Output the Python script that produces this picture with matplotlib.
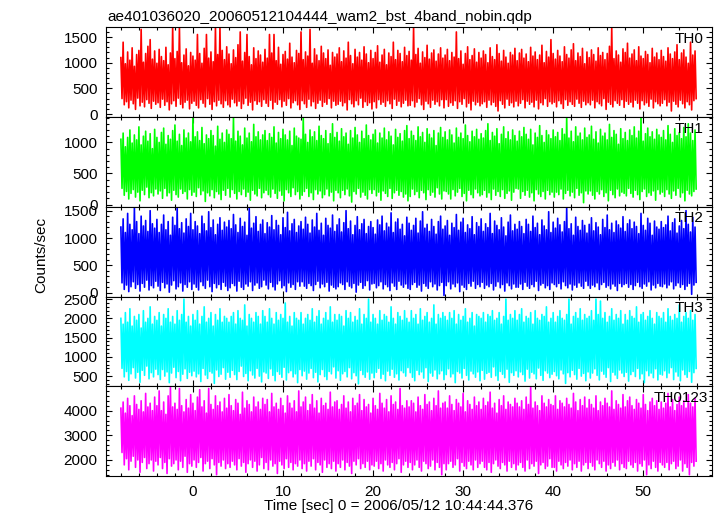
import matplotlib
matplotlib.use("Agg")
import matplotlib.pyplot as plt
from matplotlib.ticker import MultipleLocator
import numpy as np

plt.rcParams['font.family'] = ['Liberation Sans', 'DejaVu Sans']
plt.rcParams['font.size'] = 11

title = "ae401036020_20060512104444_wam2_bst_4band_nobin.qdp"
xlabel = "Time [sec] 0 = 2006/05/12 10:44:44.376"
ylabel = "Counts/sec"

# light curve: per 0.25 s bin, the local high and low count rate
t_start = -8.0
bin_sec = 0.25

bands = ["TH0", "TH1", "TH2", "TH3", "TH0123"]
colors = ["#ff0000", "#00ff00", "#0000ff", "#00ffff", "#ff00ff"]

th0_hi = [1100, 1400, 980, 1210, 1050, 1290, 930, 1160, 1240, 1650, 1010, 1180, 1320, 1450, 1070, 1230,
          990, 1260, 1120, 1040, 1300, 960, 1190, 1690, 1080, 1220, 1690, 1000, 1150, 1270, 940, 1200,
          1130, 1050, 1550, 1180, 990, 1280, 1550, 1090, 1210, 1020, 1690, 1160, 1690, 1240, 1060, 1310,
          1170, 980, 1250, 1100, 1350, 1600, 1030, 1200, 1550, 1120, 960, 1290, 1080, 1230, 1150, 1010,
          1260, 1090, 1550, 1190, 1550, 1040, 1300, 970, 1160, 1220, 1070, 1380, 1110, 1000, 1240, 1180,
          1600, 1060, 1210, 1130, 1650, 990, 1270, 1150, 1040, 1320, 1190, 1080, 1250, 950, 1200, 1110,
          1170, 1290, 1020, 1230, 1090, 1400, 1140, 980, 1260, 1110, 1200, 1050, 1310, 1170, 1000, 1240,
          1080, 1200, 1330, 1010, 1150, 1260, 960, 1190, 1120, 1400, 1060, 1240, 1180, 1020, 1300, 1140,
          1220, 1050, 1690, 1160, 1280, 990, 1210, 1100, 1340, 1070, 1190, 1250, 1030, 1170, 1290, 1090,
          1150, 1260, 1040, 1200, 1110, 1600, 1080, 1230, 970, 1180, 1310, 1060, 1140, 1270, 1010, 1200,
          1090, 1230, 1160, 1000, 1290, 1120, 1060, 1350, 1180, 1030, 1240, 1110, 990, 1200, 1150, 1280,
          1040, 1190, 1260, 1090, 1170, 1020, 1300, 1130, 1210, 1060, 1150, 1340, 1000, 1220, 1110, 1450,
          1180, 1070, 1240, 1130, 1020, 1310, 1160, 1090, 1250, 1370, 1040, 1190, 1120, 1280, 980, 1210,
          1100, 1250, 1160, 1030, 1290, 1140, 1200, 1060, 1180, 1320, 1690, 1080, 1230, 1150, 1010, 1270,
          1200, 1380, 1090, 1170, 1250, 1040, 1310, 1130, 1080, 1220, 1160, 1000, 1280, 1110, 1190, 1060,
          1240, 1120, 1030, 1290, 1170, 1080, 1210, 1350, 1060, 1190, 1250, 1110, 990, 1400, 1150, 1230]
th0_lo = [300, 180, 240, 120, 270, 200, 90, 310, 160, 230, 140, 280, 210, 110, 250, 190,
          220, 130, 290, 170, 240, 80, 200, 260, 150, 310, 190, 120, 230, 270, 100, 210,
          250, 170, 120, 280, 210, 140, 300, 190, 90, 240, 160, 270, 200, 130, 260, 180,
          140, 290, 220, 160, 250, 110, 200, 310, 170, 230, 80, 260, 190, 240, 150, 280,
          210, 150, 270, 100, 230, 190, 280, 140, 250, 170, 300, 120, 220, 260, 180, 90,
          260, 200, 130, 290, 160, 240, 110, 210, 270, 150, 230, 190, 300, 120, 250, 170,
          190, 250, 160, 220, 80, 280, 200, 140, 260, 180, 310, 130, 240, 170, 220, 100,
          240, 120, 280, 190, 230, 150, 260, 200, 110, 290, 170, 250, 140, 210, 270, 160,
          170, 260, 140, 230, 300, 180, 90, 250, 200, 130, 270, 190, 240, 160, 280, 120,
          280, 150, 220, 170, 260, 110, 240, 190, 300, 140, 210, 80, 250, 180, 230, 160,
          200, 240, 130, 270, 180, 230, 150, 60, 260, 190, 120, 290, 170, 220, 140, 250,
          160, 210, 280, 120, 250, 190, 230, 140, 270, 100, 220, 180, 300, 150, 240, 200,
          230, 140, 260, 200, 110, 280, 170, 240, 190, 150, 290, 210, 130, 250, 180, 220,
          180, 270, 120, 240, 200, 160, 300, 90, 230, 190, 140, 260, 210, 170, 280, 130,
          250, 190, 230, 140, 270, 210, 100, 260, 180, 220, 150, 290, 120, 240, 200, 160,
          210, 280, 160, 230, 60, 250, 190, 140, 270, 200, 120, 240, 180, 80, 260, 300]

th1_hi = [1050, 1150, 930, 1080, 1200, 990, 1120, 1040, 1250, 960, 1100, 1180, 1020, 1140, 900, 1210,
          1080, 1000, 1160, 1230, 970, 1110, 1050, 1190, 1280, 1020, 1130, 950, 1200, 1070, 1150, 1010,
          1400, 1090, 1170, 1030, 1240, 980, 1120, 1060, 1190, 1110, 940, 1260, 1050, 1150, 1000, 1200,
          1130, 1060, 1400, 1020, 1180, 1100, 960, 1230, 1070, 1150, 1010, 1290, 1090, 1170, 1040, 1120,
          1190, 1030, 1140, 1080, 1250, 990, 1160, 1060, 1210, 1120, 1040, 1180, 950, 1230, 1100, 1070,
          1050, 1400, 1130, 1000, 1200, 1090, 1170, 1030, 1260, 1110, 1060, 1190, 980, 1140, 1300, 1080,
          1160, 1020, 1220, 1090, 1150, 970, 1190, 1070, 1240, 1120, 1000, 1180, 1060, 1280, 1110, 1040,
          1130, 1200, 990, 1150, 1070, 1230, 1040, 1170, 1100, 960, 1210, 1080, 1140, 1020, 1190, 1270,
          1060, 1180, 1110, 1030, 1250, 1090, 1160, 1000, 1220, 1130, 1070, 1190, 950, 1150, 1240, 1080,
          1170, 1040, 1200, 1120, 990, 1230, 1080, 1150, 1060, 1280, 1110, 1010, 1180, 1090, 1210, 1050,
          1140, 1070, 1190, 1300, 1030, 1160, 1100, 1220, 980, 1130, 1250, 1060, 1170, 1040, 1200, 1110,
          1020, 1180, 1090, 1240, 1130, 1050, 1210, 960, 1150, 1080, 1270, 1110, 1000, 1190, 1120, 1060,
          1200, 1090, 1160, 1030, 1220, 1130, 1408, 1070, 1180, 1010, 1250, 1100, 1150, 1040, 1230, 1080,
          1120, 1260, 1050, 1170, 990, 1210, 1100, 1150, 1040, 1290, 1080, 1190, 1130, 970, 1220, 1060,
          1160, 1030, 1200, 1110, 1250, 1070, 1180, 1408, 1020, 1140, 1230, 1090, 1170, 1050, 1210, 1120,
          1080, 1190, 1040, 1270, 1130, 1000, 1220, 1110, 1160, 1060, 1240, 1090, 1300, 1150, 1030, 1200]
th1_lo = [260, 150, 210, 90, 180, 240, 120, 200, 60, 230, 160, 280, 110, 190, 140, 250,
          170, 220, 100, 260, 140, 190, 70, 230, 160, 120, 250, 180, 210, 90, 240, 150,
          200, 130, 270, 160, 220, 50, 190, 140, 240, 110, 210, 170, 80, 230, 150, 260,
          120, 240, 180, 90, 210, 160, 250, 130, 200, 70, 230, 170, 140, 260, 110, 190,
          230, 160, 120, 250, 180, 100, 220, 150, 60, 240, 190, 130, 270, 160, 210, 90,
          150, 210, 260, 130, 190, 80, 240, 170, 220, 110, 160, 250, 140, 200, 60, 230,
          190, 110, 230, 160, 250, 140, 40, 210, 170, 260, 120, 200, 150, 90, 240, 180,
          240, 140, 200, 70, 220, 180, 130, 260, 100, 190, 230, 150, 210, 120, 170, 60,
          130, 250, 160, 210, 110, 230, 190, 80, 240, 150, 200, 120, 270, 170, 90, 220,
          210, 170, 90, 240, 140, 200, 260, 130, 180, 60, 230, 160, 110, 250, 190, 140,
          160, 230, 120, 190, 80, 250, 150, 210, 130, 240, 100, 180, 220, 70, 200, 260,
          250, 100, 210, 150, 230, 120, 190, 60, 240, 170, 130, 210, 90, 230, 160, 200,
          120, 200, 160, 250, 90, 180, 230, 140, 200, 110, 260, 150, 190, 30, 220, 170,
          220, 150, 90, 210, 170, 240, 130, 190, 60, 230, 160, 110, 250, 140, 200, 180,
          140, 260, 180, 120, 230, 160, 80, 210, 250, 130, 190, 150, 220, 70, 240, 170,
          200, 130, 240, 170, 100, 220, 150, 260, 120, 190, 60, 230, 170, 140, 210, 250]

th2_hi = [1200, 1350, 1100, 1450, 1250, 1150, 1550, 1300, 1080, 1400, 1220, 1320, 1120, 1500, 1260, 1180,
          1340, 1100, 1250, 1420, 1150, 1300, 1050, 1380, 1230, 1560, 1170, 1280, 1090, 1350, 1210, 1450,
          1150, 1300, 1220, 1080, 1400, 1260, 1130, 1480, 1190, 1330, 1060, 1250, 1370, 1140, 1290, 1200,
          1320, 1170, 1430, 1240, 1100, 1360, 1210, 1290, 1050, 1540, 1180, 1270, 1390, 1120, 1250, 1330,
          1080, 1280, 1200, 1410, 1150, 1320, 1230, 1060, 1370, 1190, 1470, 1130, 1260, 1340, 1100, 1220,
          1300, 1160, 1380, 1250, 1090, 1330, 1200, 1450, 1140, 1270, 1050, 1360, 1230, 1180, 1420, 1120,
          1240, 1350, 1110, 1280, 1500, 1170, 1310, 1060, 1230, 1390, 1150, 1260, 1340, 1080, 1210, 1300,
          1190, 1070, 1330, 1240, 1400, 1130, 1270, 1200, 1460, 1100, 1290, 1350, 1160, 1250, 1040, 1380,
          1270, 1140, 1230, 1360, 1090, 1310, 1480, 1180, 1250, 1120, 1340, 1210, 1070, 1300, 1400, 1160,
          1220, 1320, 1050, 1270, 1190, 1430, 1140, 1290, 1360, 1100, 1240, 1170, 1390, 1060, 1280, 1210,
          1350, 1120, 1260, 1190, 1450, 1080, 1310, 1230, 1150, 1370, 1200, 1040, 1290, 1420, 1130, 1250,
          1160, 1300, 1210, 1080, 1340, 1250, 1120, 1400, 1190, 1270, 1060, 1330, 1220, 1150, 1480, 1100,
          1290, 1180, 1360, 1240, 1110, 1300, 1550, 1170, 1260, 1050, 1380, 1210, 1140, 1320, 1230, 1090,
          1250, 1370, 1130, 1280, 1200, 1060, 1340, 1190, 1420, 1150, 1270, 1100, 1310, 1240, 1180, 1390,
          1120, 1260, 1330, 1170, 1290, 1210, 1080, 1450, 1230, 1140, 1360, 1270, 1050, 1310, 1200, 1160,
          1300, 1190, 1240, 1400, 1130, 1280, 1350, 1090, 1220, 1320, 1170, 1500, 1250, 1110, 1380, 1200]
th2_lo = [180, 60, 140, 20, 110, 200, 80, 150, 30, 170, 100, 230, 50, 130, 90, 210,
          120, 40, 190, 90, 160, 10, 140, 220, 70, 110, 180, 30, 150, 100, 200, 60,
          160, 100, 50, 200, 130, 80, 230, 110, 20, 170, 90, 150, 60, 190, 120, 40,
          90, 170, 130, 30, 210, 100, 60, 160, 120, 200, 40, 140, 180, 80, 110, 230,
          140, 70, 190, 110, 50, 160, 220, 90, 130, 20, 180, 100, 150, 60, 200, 120,
          200, 120, 80, 170, 130, 40, 150, 210, 90, 160, 110, 190, 30, 140, 100, 70,
          110, 180, 150, 60, 200, 120, 90, 170, 10, 140, 190, 80, 130, 220, 50, 160,
          170, 90, 130, 200, 70, 150, 110, 40, 180, 120, 60, 210, 140, 100, 160, 80,
          60, 150, 190, 100, 140, 30, 170, 120, 80, 200, 110, 160, 50, 130, 190, -50,
          130, 200, 70, 160, 110, 180, 20, 140, 100, 60, 170, 120, 210, 80, 150, 110,
          190, 80, 140, 110, 170, 50, 120, 200, 90, 150, 30, 180, 130, 70, 160, 100,
          100, 160, 60, 190, 120, 80, 150, 110, 210, 40, 140, 170, 90, 130, 60, 180,
          150, 110, 170, 70, 200, 130, 90, 160, 50, 140, 100, 180, 120, 80, 210, 130,
          80, 140, 110, 180, 60, 150, 190, 100, 130, 70, 160, 120, 40, 170, 110, 150,
          170, 100, 150, 60, 130, 190, 110, 80, 160, 120, 200, 50, 140, 90, 170, 120,
          110, 160, 90, 140, 200, 70, 130, 180, 100, 150, 60, 120, 170, -30, 140, 190]

th3_hi = [2000, 1850, 2150, 1900, 2250, 1800, 2050, 1950, 2100, 1750, 2200, 1900, 2000, 2300, 1850, 2050,
          1950, 2150, 1800, 2100, 2000, 2250, 1900, 2050, 1850, 2200, 1950, 2100, 2500, 1900, 2050, 1800,
          2100, 1950, 2200, 1850, 2050, 2300, 1900, 2000, 2150, 1800, 2100, 1950, 2250, 1900, 2050, 2000,
          1900, 2050, 2150, 1850, 2200, 2000, 1950, 2350, 1800, 2100, 2000, 1900, 2150, 2050, 1850, 2200,
          2050, 1900, 2250, 2000, 1850, 2150, 1950, 2100, 2000, 2400, 1900, 2050, 1800, 2150, 2000, 1950,
          2150, 1850, 2000, 2100, 1950, 2250, 1900, 2050, 2200, 1850, 2000, 2150, 1950, 2300, 1900, 2100,
          1950, 2100, 2050, 1800, 2200, 2000, 2150, 1900, 2050, 1950, 2250, 1850, 2100, 2000, 2500, 1900,
          2100, 2000, 1850, 2200, 1950, 2100, 2050, 1900, 2300, 2000, 1850, 2150, 2050, 1950, 2200, 2000,
          1900, 2200, 2000, 2100, 1850, 2250, 1950, 2050, 2150, 1900, 2000, 2350, 1850, 2100, 2000, 2150,
          2050, 1950, 2150, 2000, 2200, 1850, 2100, 1950, 2050, 2250, 1900, 2000, 2150, 1800, 2100, 2050,
          2000, 2150, 1900, 2100, 2050, 2200, 1950, 2000, 2150, 1850, 2050, 2500, 1950, 2100, 2000, 2200,
          1950, 2100, 2250, 1900, 2050, 2000, 2150, 1850, 2200, 2000, 1950, 2100, 2050, 2300, 1900, 2000,
          2150, 1900, 2050, 2200, 2000, 1950, 2100, 2500, 1850, 2050, 2150, 2000, 2250, 1950, 2100, 2000,
          2050, 2200, 1950, 2500, 2100, 2450, 2000, 2150, 1900, 2050, 2250, 1950, 2100, 2000, 2200, 1850,
          2100, 1950, 2200, 2050, 2000, 2300, 1900, 2100, 2150, 1950, 2050, 2200, 2000, 1850, 2150, 2050,
          2000, 2150, 1900, 2250, 2050, 1950, 2100, 2000, 2350, 1900, 2050, 2150, 2000, 2200, 1950, 2100]
th3_lo = [700, 480, 620, 390, 560, 720, 450, 600, 340, 650, 520, 760, 430, 590, 480, 680,
          540, 410, 670, 500, 610, 330, 580, 730, 460, 620, 380, 550, 690, 440, 600, 510,
          630, 480, 560, 360, 700, 530, 440, 620, 580, 310, 660, 490, 550, 720, 420, 600,
          470, 650, 540, 410, 620, 760, 490, 570, 380, 640, 530, 450, 700, 500, 350, 610,
          580, 440, 690, 520, 380, 620, 550, 470, 730, 400, 590, 640, 480, 560, 330, 670,
          510, 630, 420, 580, 700, 460, 600, 350, 540, 670, 490, 410, 620, 560, 740, 450,
          640, 390, 560, 620, 480, 720, 430, 590, 510, 300, 650, 540, 470, 610, 420, 580,
          460, 600, 700, 440, 550, 380, 630, 520, 680, 470, 560, 400, 640, 590, 500, 720,
          590, 470, 380, 650, 540, 610, 450, 720, 360, 580, 500, 660, 430, 560, 640, 410,
          540, 690, 480, 560, 330, 620, 580, 450, 700, 520, 400, 630, 560, 470, 610, 380,
          650, 420, 570, 600, 470, 740, 510, 390, 620, 550, 460, 680, 340, 590, 520, 640,
          480, 610, 540, 370, 680, 450, 600, 560, 430, 710, 520, 390, 640, 580, 460, 550,
          620, 510, 430, 660, 560, 310, 590, 480, 650, 540, 420, 700, 500, 570, 380, 610,
          450, 580, 690, 520, 400, 630, 550, 470, 720, 360, 600, 530, 440, 660, 580, 490,
          600, 370, 540, 620, 490, 700, 430, 560, 330, 640, 510, 580, 460, 690, 400, 550,
          530, 640, 460, 580, 720, 410, 610, 500, 380, 660, 540, 470, 620, 340, 590, 700]

th0123_hi = [4100, 4350, 3900, 4500, 4200, 3800, 4600, 4250, 4050, 4400, 3950, 4700, 4150, 4300, 4000, 4550,
             4200, 4800, 4000, 4350, 3850, 4600, 4950, 4150, 4300, 4050, 4900, 4200, 3950, 4450, 4100, 4650,
             4300, 4000, 4550, 4850, 4150, 4400, 3900, 4900, 4250, 4050, 4600, 4200, 4350, 3950, 4500, 4100,
             4650, 4200, 4000, 4450, 4300, 3850, 4750, 4100, 4400, 4250, 3950, 4550, 4150, 4350, 4050, 4500,
             4250, 4450, 3950, 4700, 4150, 4300, 4050, 4500, 4200, 3900, 4600, 4300, 4100, 4400, 3950, 4800,
             4150, 4350, 4550, 4000, 4250, 4650, 4100, 4400, 3900, 4500, 4200, 4300, 4050, 4750, 4150, 4350,
             4400, 4050, 4250, 4600, 4100, 4350, 3950, 4500, 4200, 4300, 4650, 4000, 4450, 4150, 4250, 3900,
             4500, 4200, 4050, 4700, 4300, 4100, 4450, 3950, 4600, 4250, 4350, 4050, 4900, 4200, 4100, 4400,
             4150, 4400, 4300, 3950, 4550, 4200, 4050, 4650, 4250, 4350, 4000, 4500, 4200, 4800, 4100, 4300,
             4350, 4100, 4600, 4250, 4000, 4450, 4300, 4150, 4700, 3950, 4400, 4250, 4050, 4550, 4200, 4350,
             4050, 4500, 4200, 4350, 4750, 4100, 4300, 3900, 4450, 4200, 4600, 4050, 4350, 4250, 4150, 4500,
             4300, 4150, 4400, 4050, 4550, 4250, 4950, 4100, 4350, 4200, 4000, 4600, 4300, 4150, 4450, 4250,
             4200, 4600, 4050, 4400, 4300, 4150, 4500, 4250, 4100, 4700, 4350, 4000, 4450, 4200, 4550, 4100,
             4450, 4250, 4100, 4600, 4000, 4350, 4200, 4500, 4300, 4150, 4800, 4050, 4400, 4250, 4100, 4650,
             4150, 4400, 4550, 4200, 4050, 4450, 4300, 4100, 4650, 4250, 4000, 4350, 4500, 4200, 4400, 4050,
             4350, 4100, 4300, 4700, 4150, 4450, 4000, 4250, 4550, 4200, 4400, 4100, 4650, 4300, 4150, 4500]
th0123_lo = [2300, 1800, 2050, 1600, 1950, 2150, 1700, 2000, 1500, 1900, 2100, 1650, 1850, 2000, 1550, 1950,
             1800, 2100, 1650, 1900, 1450, 2050, 1750, 1850, 2000, 1600, 1950, 1700, 2150, 1500, 1850, 1750,
             2000, 1700, 1900, 2100, 1550, 1850, 1950, 1650, 2050, 1800, 1400, 1900, 1750, 2000, 1650, 1850,
             1700, 1950, 1800, 1600, 2050, 1750, 1900, 1500, 1850, 2000, 1700, 1950, 1550, 1800, 2100, 1650,
             1900, 1600, 2000, 1750, 1850, 1450, 1950, 1800, 1650, 2050, 1700, 1900, 1600, 1850, 1750, 2000,
             1650, 1850, 1550, 1950, 1750, 2050, 1600, 1900, 1800, 1500, 2000, 1700, 1850, 1650, 1950, 1550,
             1850, 1700, 2000, 1600, 1900, 1750, 1450, 1950, 1800, 2050, 1650, 1850, 1700, 1950, 1600, 1800,
             1750, 1950, 1650, 1850, 1550, 2000, 1800, 1700, 1900, 1600, 1850, 2050, 1500, 1800, 1950, 1700,
             1900, 1600, 1800, 2000, 1700, 1550, 1950, 1850, 1650, 1750, 2000, 1600, 1900, 1700, 1400, 1850,
             1600, 1850, 1950, 1700, 1800, 2050, 1550, 1900, 1750, 1650, 1950, 1800, 1600, 2000, 1700, 1850,
             1950, 1700, 1600, 1900, 1500, 1850, 2000, 1750, 1650, 1900, 1800, 1550, 1950, 1700, 1850, 1600,
             1800, 1900, 1700, 1550, 2000, 1650, 1850, 1750, 1950, 1450, 1800, 1900, 1650, 1750, 2050, 1700,
             1700, 1550, 1950, 1800, 1650, 1900, 1750, 2000, 1600, 1850, 1700, 1950, 1550, 1800, 1900, 1650,
             1900, 1750, 1600, 2000, 1850, 1700, 1950, 1550, 1800, 1650, 1900, 1750, 2000, 1600, 1850, 1700,
             1650, 1950, 1800, 1700, 1900, 1550, 1850, 1750, 2000, 1400, 1800, 1650, 1950, 1700, 1550, 1900,
             1800, 1700, 1900, 1600, 1850, 1950, 1650, 1750, 2000, 1550, 1850, 1700, 1400, 1900, 1750, 1950]

his = [th0_hi, th1_hi, th2_hi, th3_hi, th0123_hi]
los = [th0_lo, th1_lo, th2_lo, th3_lo, th0123_lo]

# axis setup per panel (range, major, minor)
ylims = [(-60, 1690), (-37, 1408), (-71, 1571), (235, 2568), (1347, 4990)]
majors = [500, 500, 500, 500, 1000]
minors = [100, 100, 100, 100, 200]
label_x = [0.986, 0.986, 0.986, 0.986, 0.994]

fig = plt.figure(figsize=(7.17, 5.16), dpi=100)
axes = fig.subplots(5, 1, sharex=True, gridspec_kw=dict(hspace=0))
fig.subplots_adjust(left=0.1485, right=0.9926, top=0.947, bottom=0.0775)

for i, ax in enumerate(axes):
    hi = np.array(his[i], dtype=float)
    lo = np.array(los[i], dtype=float)
    t = t_start + bin_sec * np.arange(len(hi))
    # zigzag high -> low -> high through the bins
    x = np.empty(2 * len(hi))
    y = np.empty(2 * len(hi))
    x[0::2] = t
    x[1::2] = t + bin_sec / 2
    y[0::2] = hi
    y[1::2] = lo
    ax.plot(x, y, color=colors[i], lw=1.2)

    ax.set_ylim(*ylims[i])
    ax.yaxis.set_major_locator(MultipleLocator(majors[i]))
    ax.yaxis.set_minor_locator(MultipleLocator(minors[i]))
    ax.xaxis.set_major_locator(MultipleLocator(10))
    ax.xaxis.set_minor_locator(MultipleLocator(2))
    ax.tick_params(which='both', direction='in', top=True, right=True, width=0.8)
    ax.tick_params(which='major', length=4.5, pad=6.5, labelsize=11)
    ax.tick_params(which='minor', length=2.2)
    for s in ax.spines.values():
        s.set_linewidth(0.8)
    ax.text(label_x[i], 0.95, bands[i], transform=ax.transAxes,
            ha='right', va='top', fontsize=11)

axes[-1].set_xlim(-9.6, 57.6)

fig.text(107 / 717, 1 - 20.7 / 516, title, ha='left', va='baseline', fontsize=11)
fig.text(0.556, 0.012, xlabel, ha='center', va='baseline', fontsize=11)
fig.text(41 / 717, 1 - 255 / 516, ylabel, rotation=90, ha='center', va='center', fontsize=11)

fig.savefig("out.png", dpi=100)
